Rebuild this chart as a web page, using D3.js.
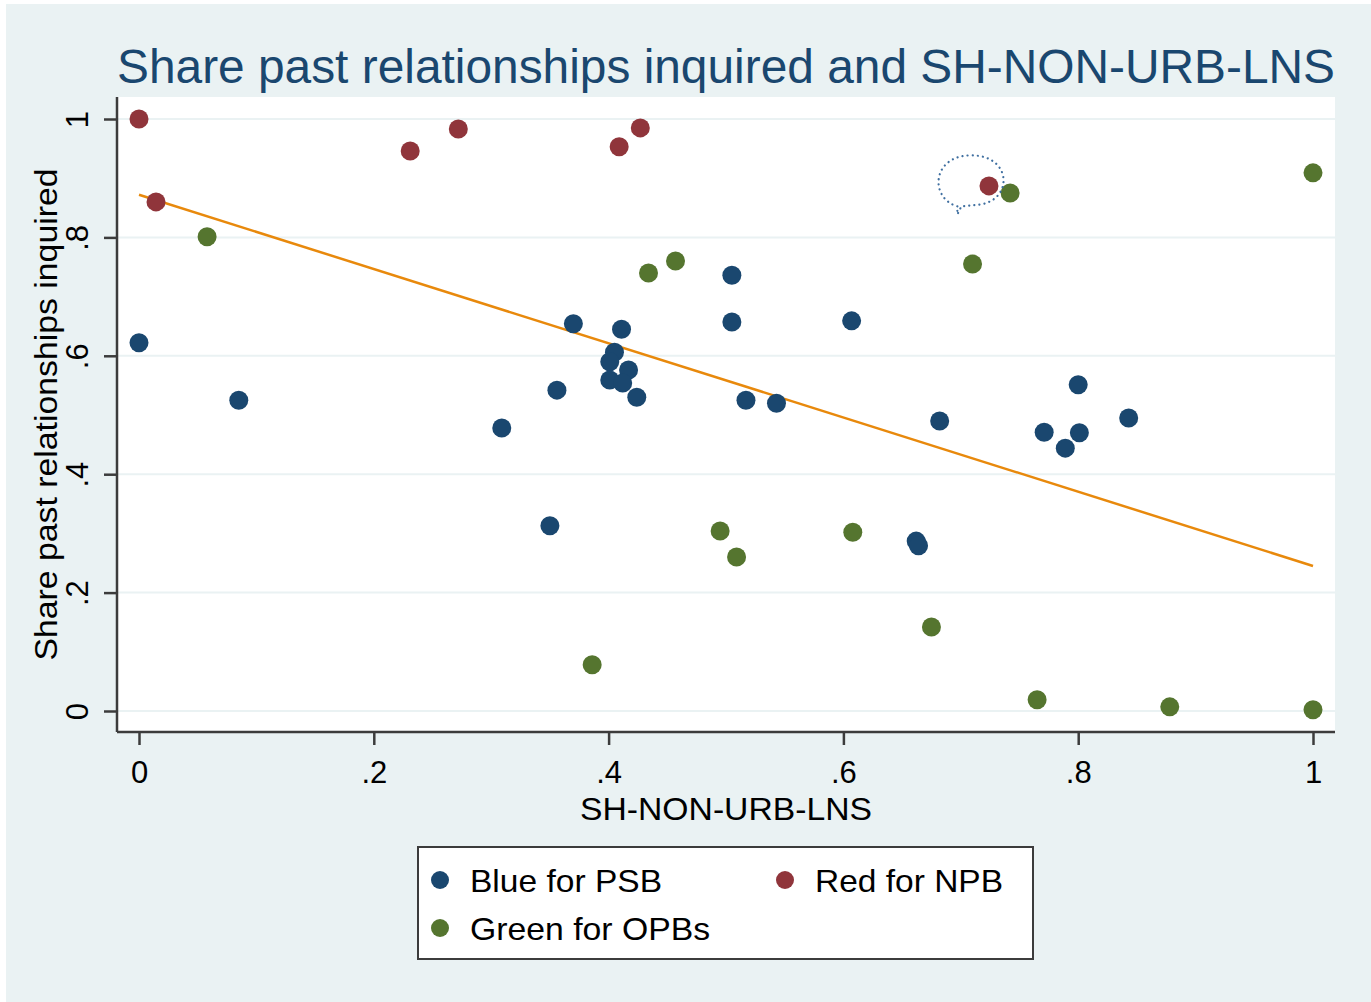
<!DOCTYPE html>
<html>
<head>
<meta charset="utf-8">
<script src="https://cdn.jsdelivr.net/npm/d3@7"></script>
<style>
  body { margin: 0; background: #ffffff; }
  svg { display: block; font-family: "Liberation Sans", Arial, sans-serif; }
</style>
</head>
<body>
<svg id="chart" width="1371" height="1002"></svg>
<script>
// values
var blueX = [0, 0.085, 0.309, 0.350, 0.356, 0.370, 0.411, 0.405, 0.401, 0.417, 0.401, 0.412, 0.424,
             0.505, 0.505, 0.517, 0.543, 0.607, 0.662, 0.664, 0.682, 0.800, 0.771, 0.801, 0.789, 0.843];
var blueY = [0.622, 0.525, 0.478, 0.313, 0.542, 0.654, 0.645, 0.606, 0.590, 0.576, 0.559, 0.554, 0.530,
             0.736, 0.657, 0.525, 0.520, 0.659, 0.287, 0.279, 0.490, 0.551, 0.471, 0.470, 0.444, 0.495];

var redX = [0, 0.0145, 0.231, 0.272, 0.409, 0.427, 0.724];
var redY = [1.0, 0.860, 0.946, 0.983, 0.953, 0.985, 0.887];

var greenX = [0.058, 0.434, 0.457, 0.742, 0.710, 1.0, 0.495, 0.509, 0.608, 0.386, 0.675, 0.765, 0.878, 1.0];
var greenY = [0.801, 0.740, 0.760, 0.875, 0.755, 0.909, 0.304, 0.260, 0.302, 0.078, 0.142, 0.019, 0.007, 0.002];

var fitX = [0, 1];
var fitY = [0.872, 0.245];

var xTicks = [0, 0.2, 0.4, 0.6, 0.8, 1];
var yTicks = [0, 0.2, 0.4, 0.6, 0.8, 1];

var legendItems = [
    { label: "Blue for PSB", color: "#1a476f", col: 0, row: 0, w: 192 },
    { label: "Red for NPB", color: "#90353b", col: 1, row: 0, w: 188 },
    { label: "Green for OPBs", color: "#55752f", col: 0, row: 1, w: 240 }
];

var svg = d3.select('#chart');

var plot = { left: 117, right: 1335, top: 97, bottom: 732 };

var x = d3.scaleLinear().domain([0, 1]).range([139, 1313]);
var y = d3.scaleLinear().domain([0, 1]).range([711, 119]);

function tickFmt(d) {
    if (d === 0 || d === 1) return String(d);
    return d3.format('.1f')(d).replace(/^0/, '');
}

// outer background
svg.append('rect')
    .attr('x', 6).attr('y', 4)
    .attr('width', 1365).attr('height', 998)
    .attr('fill', '#eaf2f3');

// plot region
svg.append('rect')
    .attr('x', plot.left).attr('y', plot.top)
    .attr('width', plot.right - plot.left)
    .attr('height', plot.bottom - plot.top)
    .attr('fill', '#ffffff');

// grid lines
svg.append('g')
    .selectAll('line')
    .data(yTicks)
    .join('line')
    .attr('x1', plot.left).attr('x2', plot.right)
    .attr('y1', function (d) { return y(d); })
    .attr('y2', function (d) { return y(d); })
    .attr('stroke', '#eaf2f3')
    .attr('stroke-width', 2);

// axes
var xAxis = d3.axisBottom(x).tickValues(xTicks).tickSize(13).tickPadding(10).tickFormat(tickFmt);
var yAxis = d3.axisLeft(y).tickValues(yTicks).tickSize(13).tickPadding(12).tickFormat(tickFmt);

var gx = svg.append('g')
    .attr('transform', 'translate(0,' + plot.bottom + ')')
    .call(xAxis);
gx.select('.domain').attr('d', 'M' + plot.left + ',0H' + plot.right);

var gy = svg.append('g')
    .attr('transform', 'translate(' + plot.left + ',0)')
    .call(yAxis);
gy.select('.domain').attr('d', 'M0,' + plot.top + 'V' + plot.bottom);

[gx, gy].forEach(function (g) {
    g.select('.domain').attr('stroke', '#3c3c3c').attr('stroke-width', 2.5);
    g.selectAll('.tick line').attr('stroke', '#3c3c3c').attr('stroke-width', 2.5);
    g.selectAll('.tick text')
        .attr('fill', '#000')
        .style('font-size', '31px')
        .style('font-family', '"Liberation Sans", Arial, sans-serif');
});

gy.selectAll('.tick text')
    .attr('x', null).attr('dy', null)
    .attr('text-anchor', 'middle')
    .attr('transform', 'translate(-29,0) rotate(-90)');

gx.selectAll('.tick text').attr('dy', '0.9em');

// fitted line
var line = d3.line()
    .x(function (d) { return x(d[0]); })
    .y(function (d) { return y(d[1]); });

svg.append('path')
    .datum(d3.zip(fitX, fitY))
    .attr('d', line)
    .attr('fill', 'none')
    .attr('stroke', '#e8890c')
    .attr('stroke-width', 2.5);

// markers
function drawSeries(xs, ys, color) {
    svg.append('g')
        .selectAll('circle')
        .data(d3.zip(xs, ys))
        .join('circle')
        .attr('cx', function (d) { return x(d[0]); })
        .attr('cy', function (d) { return y(d[1]); })
        .attr('r', 9.5)
        .attr('fill', color);
}

drawSeries(greenX, greenY, '#55752f');
drawSeries(blueX, blueY, '#1a476f');
drawSeries(redX, redY, '#90353b');

// dotted speech bubble round the NPB point near .72
var bx = x(0.709), by = y(0.893);
var bubble = d3.path();
bubble.moveTo(bx - 14, by + 24);
bubble.bezierCurveTo(bx - 42, by + 16, bx - 40, by - 27, bx, by - 27);
bubble.bezierCurveTo(bx + 40, by - 27, bx + 42, by + 16, bx + 10, by + 22);
bubble.lineTo(bx - 10, by + 24);
bubble.lineTo(bx - 14, by + 32);
bubble.closePath();

svg.append('path')
    .attr('d', bubble.toString())
    .attr('fill', 'none')
    .attr('stroke', '#3f6fa0')
    .attr('stroke-width', 2.2)
    .attr('stroke-linecap', 'round')
    .attr('stroke-dasharray', '0.1 5');

// titles
svg.append('text')
    .attr('x', (plot.left + plot.right) / 2)
    .attr('y', 83)
    .attr('text-anchor', 'middle')
    .attr('fill', '#1a476f')
    .style('font-size', '48px')
    .attr('textLength', 1218)
    .attr('lengthAdjust', 'spacingAndGlyphs')
    .text('Share past relationships inquired and SH-NON-URB-LNS');

svg.append('text')
    .attr('x', (plot.left + plot.right) / 2)
    .attr('y', 820)
    .attr('text-anchor', 'middle')
    .attr('fill', '#000')
    .style('font-size', '32px')
    .attr('textLength', 292)
    .attr('lengthAdjust', 'spacingAndGlyphs')
    .text('SH-NON-URB-LNS');

svg.append('text')
    .attr('transform', 'translate(57,' + ((plot.top + plot.bottom) / 2) + ') rotate(-90)')
    .attr('text-anchor', 'middle')
    .attr('fill', '#000')
    .style('font-size', '32px')
    .attr('textLength', 492)
    .attr('lengthAdjust', 'spacingAndGlyphs')
    .text('Share past relationships inquired');

// legend
var legend = svg.append('g').attr('transform', 'translate(418,847)');

legend.append('rect')
    .attr('width', 615).attr('height', 112)
    .attr('fill', '#ffffff')
    .attr('stroke', '#3c3c3c')
    .attr('stroke-width', 2);

var items = legend.selectAll('g.item')
    .data(legendItems)
    .join('g')
    .attr('class', 'item')
    .attr('transform', function (d) {
        return 'translate(' + (22 + d.col * 345) + ',' + (33 + d.row * 48) + ')';
    });

items.append('circle')
    .attr('r', 9)
    .attr('fill', function (d) { return d.color; });

items.append('text')
    .attr('x', 30)
    .attr('y', 12)
    .attr('fill', '#000')
    .style('font-size', '32px')
    .attr('textLength', function (d) { return d.w; })
    .attr('lengthAdjust', 'spacingAndGlyphs')
    .text(function (d) { return d.label; });
</script>
</body>
</html>
